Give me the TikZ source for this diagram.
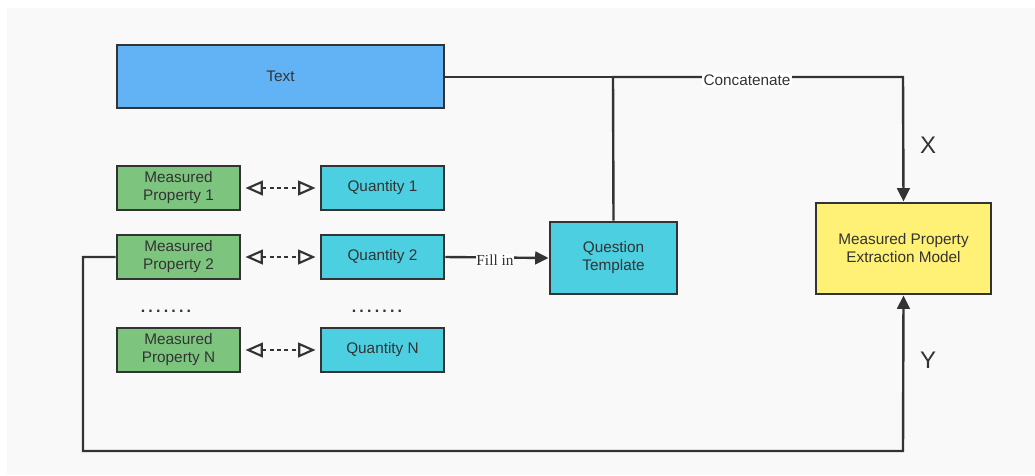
\documentclass[tikz,border=0pt]{standalone}
\usepackage{fontspec}
\setmainfont{Liberation Sans}
\newfontfamily\serifl{Liberation Serif}
\usetikzlibrary{arrows.meta,positioning,calc}
\definecolor{bg}{HTML}{F9F9F9}
\definecolor{ln}{HTML}{333333}
\definecolor{txtblue}{HTML}{62B3F5}
\definecolor{mpgreen}{HTML}{7DC57F}
\definecolor{qcyan}{HTML}{4BCFE1}
\definecolor{myellow}{HTML}{FFF176}
\definecolor{txt}{HTML}{333333}
\tikzset{
  box/.style={draw=ln, line width=2.2pt, rectangle, inner sep=0pt, align=center, text=txt, font=\fontsize{11.5}{13.5}\selectfont},
  conn/.style={draw=ln, line width=1.8pt},
  solidarrow/.style={conn, -{Triangle[length=10pt,width=9.5pt]}},
  dotarrow/.style={draw=ln, line width=1.6pt, dash pattern=on 3pt off 2.5pt, {Triangle[open,length=13pt,width=11pt,line width=1.6pt]}-{Triangle[open,length=13pt,width=11pt,line width=1.6pt]}},
  lbl/.style={fill=white, inner sep=1pt, text=txt, font=\fontsize{11.5}{13.5}\selectfont},
  xy/.style={text=txt, font=\fontsize{18}{21}\selectfont},
  dotsl/.style={text=txt, font=\bfseries\fontsize{12}{14}\selectfont}
}
\begin{document}
\begin{tikzpicture}[x=0.75pt,y=-0.75pt]
\useasboundingbox (0,0) rectangle (1035,475);
\fill[white] (0,0) rectangle (1035,475);
\fill[bg] (7,8) rectangle (1035,475);

\node[box, fill=txtblue, minimum width=327*0.75pt, minimum height=63*0.75pt] (text) at (280.5,76.5) {Text};

\node[box, fill=mpgreen, minimum width=123*0.75pt, minimum height=44*0.75pt] (mp1) at (178.5,188) {Measured\\Property 1};
\node[box, fill=qcyan, minimum width=123*0.75pt, minimum height=44*0.75pt] (q1) at (382.5,188) {Quantity 1};
\node[box, fill=mpgreen, minimum width=123*0.75pt, minimum height=44*0.75pt] (mp2) at (178.5,257) {Measured\\Property 2};
\node[box, fill=qcyan, minimum width=123*0.75pt, minimum height=44*0.75pt] (q2) at (382.5,257) {Quantity 2};
\node[dotsl] (dots1) at (166,311) {.\hspace{2.4pt}.\hspace{2.4pt}.\hspace{2.4pt}.\hspace{2.4pt}.\hspace{2.4pt}.\hspace{2.4pt}.};
\node[dotsl] (dots2) at (377,311) {.\hspace{2.4pt}.\hspace{2.4pt}.\hspace{2.4pt}.\hspace{2.4pt}.\hspace{2.4pt}.\hspace{2.4pt}.};
\node[box, fill=mpgreen, minimum width=123*0.75pt, minimum height=44*0.75pt] (mpn) at (178.5,350) {Measured\\Property N};
\node[box, fill=qcyan, minimum width=123*0.75pt, minimum height=44*0.75pt] (qn) at (382.5,350) {Quantity N};

\node[box, fill=qcyan, minimum width=127*0.75pt, minimum height=72*0.75pt] (qt) at (613.5,258) {Question\\Template};
\node[box, fill=myellow, minimum width=175*0.75pt, minimum height=91*0.75pt] (model) at (903.5,248.5) {Measured Property\\Extraction Model};

\coordinate (join) at (613,77);
\coordinate (tr) at (903,77);
\coordinate (ll) at (83,257);
\coordinate (bl) at (83,451);
\coordinate (br) at (903,451);

% dotted double arrows
\draw[dotarrow] ($(mp1.east)+(4,0)$) -- ($(q1.west)+(-4,0)$);
\draw[dotarrow] ($(mp2.east)+(4,0)$) -- ($(q2.west)+(-4,0)$);
\draw[dotarrow] ($(mpn.east)+(4,0)$) -- ($(qn.west)+(-4,0)$);

% Text to join
\draw[draw=ln, line width=1.4pt] (text.east |- join) -- (join);
% Question template up and to the model
\draw[solidarrow] (qt.north) -- (join) -- (tr) -- (model.north);
\node[lbl] (concat) at (747,80) {Concatenate};
\node[xy] (xlab) at (928,145) {X};

% Fill in
\draw[solidarrow] (q2.east) -- (qt.west);
\node[fill=white, inner sep=0.5pt, text=txt, font=\serifl\fontsize{11.5}{13.5}\selectfont] (fillin) at (495,260) {Fill in};

% Y loop
\draw[solidarrow] (mp2.west) -- (ll) -- (bl) -- (br) -- (model.south);
\node[xy] (ylab) at (928,360) {Y};
\end{tikzpicture}
\end{document}
